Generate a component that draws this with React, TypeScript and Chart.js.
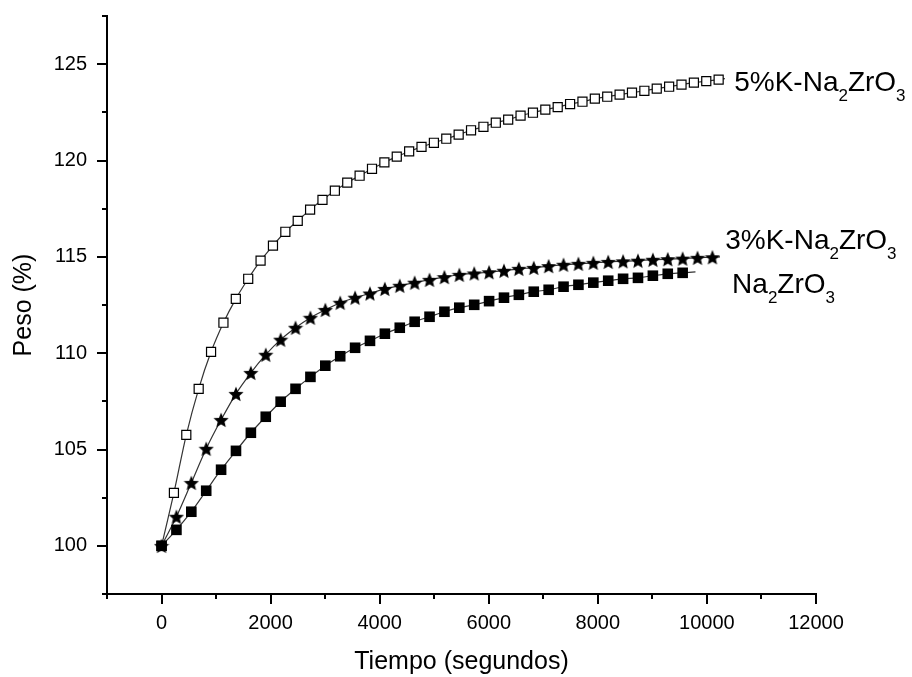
import React, { useEffect, useRef } from 'react';
import { Chart, registerables } from 'chart.js';

Chart.register(...registerables);

const FONT = '"Liberation Sans", Arial, Helvetica, sans-serif';

// ---- data (seconds, weight %) ----
const timesK5 = [0, 227, 454, 681, 908, 1135, 1362, 1589, 1816, 2043, 2270, 2497, 2724, 2951, 3178, 3405, 3632, 3859, 4086, 4313, 4540, 4767, 4994, 5221, 5448, 5675, 5902, 6129, 6356, 6583, 6810, 7037, 7264, 7491, 7718, 7945, 8172, 8399, 8626, 8853, 9080, 9307, 9534, 9761, 9988, 10215];
const pesoK5 = [100, 102.75, 105.76, 108.15, 110.07, 111.58, 112.82, 113.86, 114.8, 115.58, 116.3, 116.87, 117.45, 117.96, 118.43, 118.85, 119.21, 119.57, 119.9, 120.2, 120.47, 120.71, 120.92, 121.13, 121.34, 121.57, 121.75, 121.96, 122.12, 122.33, 122.48, 122.64, 122.77, 122.93, 123.05, 123.21, 123.31, 123.42, 123.52, 123.62, 123.73, 123.83, 123.94, 124.04, 124.12, 124.2];

const timesK3 = [0, 273, 546, 819, 1092, 1365, 1638, 1911, 2184, 2457, 2730, 3003, 3276, 3549, 3822, 4095, 4368, 4641, 4914, 5187, 5460, 5733, 6006, 6279, 6552, 6825, 7098, 7371, 7644, 7917, 8190, 8463, 8736, 9009, 9282, 9555, 9828, 10101];
const pesoK3 = [100, 101.51, 103.27, 105.04, 106.54, 107.89, 108.98, 109.92, 110.7, 111.32, 111.84, 112.25, 112.62, 112.88, 113.1, 113.34, 113.5, 113.66, 113.81, 113.95, 114.07, 114.14, 114.2, 114.28, 114.38, 114.43, 114.52, 114.59, 114.64, 114.69, 114.74, 114.77, 114.8, 114.85, 114.88, 114.91, 114.95, 114.98];

const timesNa = [0, 273, 546, 819, 1092, 1365, 1638, 1911, 2184, 2457, 2730, 3003, 3276, 3549, 3822, 4095, 4368, 4641, 4914, 5187, 5460, 5733, 6006, 6279, 6552, 6825, 7098, 7371, 7644, 7917, 8190, 8463, 8736, 9009, 9282, 9555];
const pesoNa = [100, 100.83, 101.77, 102.86, 103.95, 104.93, 105.87, 106.7, 107.48, 108.15, 108.77, 109.35, 109.84, 110.28, 110.64, 111.01, 111.32, 111.63, 111.89, 112.15, 112.36, 112.51, 112.7, 112.88, 113.03, 113.19, 113.29, 113.45, 113.55, 113.66, 113.76, 113.86, 113.91, 114.02, 114.12, 114.17];

// end of the fitted curve drawn a little past the last marker
const curveEndK5 = [10330, 124.25];
const curveEndK3 = [10240, 115.0];
const curveEndNa = [9790, 114.22];

const xTickValues = [0, 2000, 4000, 6000, 8000, 10000, 12000];
const xMinorValues = [-1000, 1000, 3000, 5000, 7000, 9000, 11000];
const yTickValues = [100, 105, 110, 115, 120, 125];
const yMinorValues = [97.5, 102.5, 107.5, 112.5, 117.5, 122.5, 127.5];

// curve labels: segments [text, isSubscript]
const labelK5: [string, boolean][] = [['5%K-Na', false], ['2', true], ['ZrO', false], ['3', true]];
const labelK3: [string, boolean][] = [['3%K-Na', false], ['2', true], ['ZrO', false], ['3', true]];
const labelNa: [string, boolean][] = [['Na', false], ['2', true], ['ZrO', false], ['3', true]];

const labelAnchors = [
  { parts: labelK5, x: 10500, y: 123.62 },
  { parts: labelK3, x: 10335, y: 115.42 },
  { parts: labelNa, x: 10462, y: 113.14 },
];

function makeStar(size: number): HTMLCanvasElement {
  const c = document.createElement('canvas');
  c.width = size;
  c.height = size;
  const g = c.getContext('2d')!;
  const cx = size / 2;
  const cy = size / 2 + 0.8;
  const R = size / 2;
  const r = R * 0.45;
  g.beginPath();
  for (let k = 0; k < 10; k++) {
    const ang = -Math.PI / 2 + (k * Math.PI) / 5;
    const rad = k % 2 === 0 ? R : r;
    g.lineTo(cx + rad * Math.cos(ang), cy + rad * Math.sin(ang));
  }
  g.closePath();
  g.fillStyle = '#000';
  g.fill();
  return c;
}

function toPoints(xs: number[], ys: number[], end: number[]) {
  const pts = xs.map((x, i) => ({ x, y: ys[i] }));
  pts.push({ x: end[0], y: end[1] });
  return pts;
}

const ticksAndLabels = {
  id: 'ticksAndLabels',
  afterDraw(chart: any) {
    const ctx = chart.ctx;
    const xs = chart.scales.x;
    const ys = chart.scales.y;
    const area = chart.chartArea;
    ctx.save();
    ctx.strokeStyle = '#000';
    ctx.lineWidth = 2;
    ctx.beginPath();
    xTickValues.forEach((v) => {
      const px = Math.round(xs.getPixelForValue(v));
      ctx.moveTo(px, area.bottom);
      ctx.lineTo(px, area.bottom + 10);
    });
    xMinorValues.forEach((v) => {
      const px = Math.round(xs.getPixelForValue(v));
      ctx.moveTo(px, area.bottom);
      ctx.lineTo(px, area.bottom + 5);
    });
    yTickValues.forEach((v) => {
      const py = Math.round(ys.getPixelForValue(v));
      ctx.moveTo(area.left, py);
      ctx.lineTo(area.left - 10, py);
    });
    yMinorValues.forEach((v) => {
      const py = Math.round(ys.getPixelForValue(v));
      ctx.moveTo(area.left, py);
      ctx.lineTo(area.left - 5, py);
    });
    ctx.stroke();

    ctx.fillStyle = '#000';
    ctx.textBaseline = 'alphabetic';
    ctx.textAlign = 'left';
    labelAnchors.forEach((lab) => {
      let px = xs.getPixelForValue(lab.x);
      const py = ys.getPixelForValue(lab.y);
      lab.parts.forEach(([t, sub]) => {
        ctx.font = sub ? `17px ${FONT}` : `28px ${FONT}`;
        ctx.fillText(t, px, sub ? py + 10 : py);
        px += ctx.measureText(t).width;
      });
    });
    ctx.restore();
  },
};

export default function App() {
  const canvasRef = useRef<HTMLCanvasElement | null>(null);

  useEffect(() => {
    const canvas = canvasRef.current;
    if (!canvas) return;
    const star = makeStar(16);
    const lineColor = '#333333';

    const chart = new Chart(canvas, {
      type: 'line',
      data: {
        datasets: [
          {
            label: 'Na2ZrO3',
            data: toPoints(timesNa, pesoNa, curveEndNa),
            borderColor: lineColor,
            borderWidth: 1.2,
            backgroundColor: '#000',
            pointBackgroundColor: '#000',
            pointBorderColor: '#000',
            pointBorderWidth: 0,
            pointStyle: 'rect',
            pointRadius: (c: any) => (c.dataIndex < timesNa.length ? 7.5 : 0),
            tension: 0.3,
          },
          {
            label: '3%K-Na2ZrO3',
            data: toPoints(timesK3, pesoK3, curveEndK3),
            borderColor: lineColor,
            borderWidth: 1.2,
            pointStyle: (c: any) => (c.dataIndex < timesK3.length ? star : false) as any,
            pointRadius: (c: any) => (c.dataIndex < timesK3.length ? 8 : 0),
            tension: 0.3,
          },
          {
            label: '5%K-Na2ZrO3',
            data: toPoints(timesK5, pesoK5, curveEndK5),
            borderColor: lineColor,
            borderWidth: 1.2,
            pointStyle: 'rect',
            pointBackgroundColor: '#fff',
            pointBorderColor: '#000',
            pointBorderWidth: 1.2,
            pointRadius: (c: any) => (c.dataIndex < timesK5.length ? 6.4 : 0),
            tension: 0.3,
          },
        ],
      },
      options: {
        animation: false,
        responsive: true,
        maintainAspectRatio: false,
        parsing: false,
        layout: { padding: { top: 16, right: 96, left: 0, bottom: 0 } },
        plugins: { legend: { display: false }, tooltip: { enabled: false } },
        scales: {
          x: {
            type: 'linear',
            min: -1000,
            max: 12000,
            afterBuildTicks: (s: any) => {
              s.ticks = xTickValues.map((v) => ({ value: v }));
            },
            afterFit: (s: any) => {
              s.height = 83;
              s.paddingLeft = 0;
              s.paddingRight = 0;
            },
            grid: { display: false, drawTicks: false },
            border: { display: true, color: '#000', width: 2 },
            ticks: {
              color: '#000',
              font: { family: FONT, size: 20 },
              padding: 17,
              maxRotation: 0,
              callback: (v: any) => String(v),
            },
            title: {
              display: true,
              text: 'Tiempo (segundos)',
              color: '#000',
              font: { family: FONT, size: 25 },
              padding: { top: 0, bottom: 0 },
            },
          },
          y: {
            type: 'linear',
            min: 97.5,
            max: 127.5,
            afterBuildTicks: (s: any) => {
              s.ticks = yTickValues.map((v) => ({ value: v }));
            },
            afterFit: (s: any) => {
              s.width = 107;
              s.paddingTop = 0;
              s.paddingBottom = 0;
            },
            grid: { display: false, drawTicks: false },
            border: { display: true, color: '#000', width: 2 },
            ticks: {
              color: '#000',
              font: { family: FONT, size: 20 },
              padding: 20,
              callback: (v: any) => String(v),
            },
            title: {
              display: true,
              text: 'Peso (%)',
              color: '#000',
              font: { family: FONT, size: 25 },
              padding: { top: 9, bottom: 0 },
            },
          },
        },
      },
      plugins: [ticksAndLabels],
    } as any);

    return () => chart.destroy();
  }, []);

  return (
    <div style={{ position: 'fixed', left: 0, top: 0, width: 912, height: 677, background: '#fff' }}>
      <canvas ref={canvasRef} />
    </div>
  );
}
